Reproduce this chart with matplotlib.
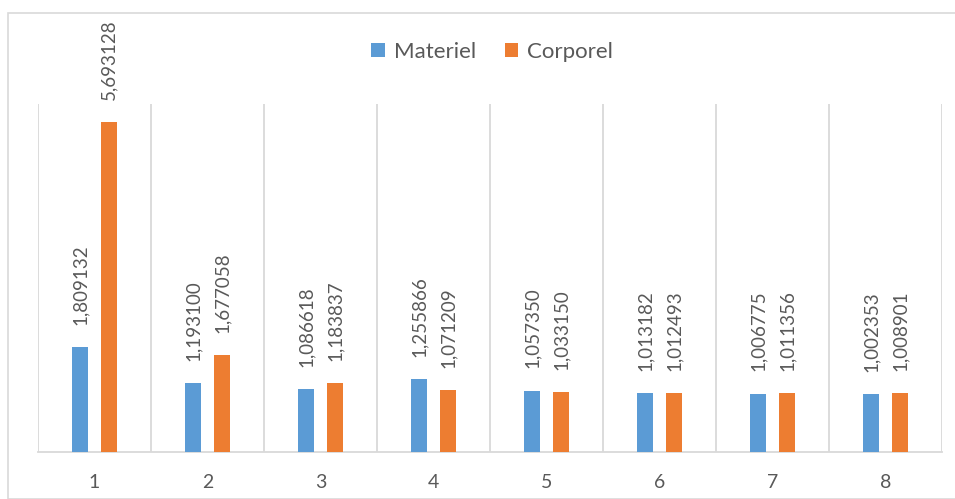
import matplotlib
matplotlib.use("Agg")
import matplotlib.pyplot as plt
from matplotlib.patches import Rectangle

categories = ["1", "2", "3", "4", "5", "6", "7", "8"]
materiel = [1.809132, 1.193100, 1.086618, 1.255866, 1.057350, 1.013182, 1.006775, 1.002353]
corporel = [5.693128, 1.677058, 1.183837, 1.071209, 1.033150, 1.012493, 1.011356, 1.008901]
series_names = ["Materiel", "Corporel"]

plt.rcParams['font.family'] = ['Lato', 'DejaVu Sans']
BLUE = "#5B9BD5"
ORANGE = "#ED7D31"
TXT = "#595959"
GRID = "#D9D9D9"

W, H = 955, 499
fig = plt.figure(figsize=(W / 100, H / 100), dpi=100)
fig.patches.append(Rectangle((8 / W, 0), 1, (H - 13) / H, transform=fig.transFigure,
                             fill=False, edgecolor=GRID, linewidth=1.2))

ax = fig.add_axes([38 / W, (H - 452) / H, (942 - 38) / W, (452 - 104) / H])
n = len(categories)
xs = [i + 0.5 for i in range(n)]
bw = 0.135
off = 0.128
b1 = ax.bar([x - off for x in xs], materiel, width=bw, color=BLUE, label=series_names[0], zorder=3)
b2 = ax.bar([x + off for x in xs], corporel, width=bw, color=ORANGE, label=series_names[1], zorder=3)

for bars, vals in ((b1, materiel), (b2, corporel)):
    for rect, v in zip(bars, vals):
        ax.annotate(f"{v:.6f}".replace(".", ","),
                    (rect.get_x() + rect.get_width() / 2, rect.get_height()),
                    xytext=(0, 16), textcoords="offset points",
                    rotation=90, ha="center", va="bottom",
                    fontsize=13.5, color=TXT, annotation_clip=False)

ax.vlines(range(n + 1), 0, 6, colors=GRID, linewidth=1.3, zorder=1)
ax.set_xlim(0, n)
ax.set_ylim(0, 6)
ax.set_yticks([])
ax.set_xticks(xs)
ax.set_xticklabels(categories, fontsize=14, color=TXT)
ax.tick_params(axis="x", length=0, pad=16)
for s in ("top", "left", "right"):
    ax.spines[s].set_visible(False)
ax.spines["bottom"].set_color(GRID)
ax.spines["bottom"].set_linewidth(1.3)
ax.set_facecolor("none")

fig.legend(handles=[b1, b2], labels=series_names, loc="center",
           bbox_to_anchor=(492 / W, 1 - 52 / H), ncol=2, frameon=False,
           fontsize=16, labelcolor=TXT, handlelength=0.6, handleheight=0.6,
           handletextpad=0.4, columnspacing=1.3)

fig.savefig("out.png", dpi=100)
